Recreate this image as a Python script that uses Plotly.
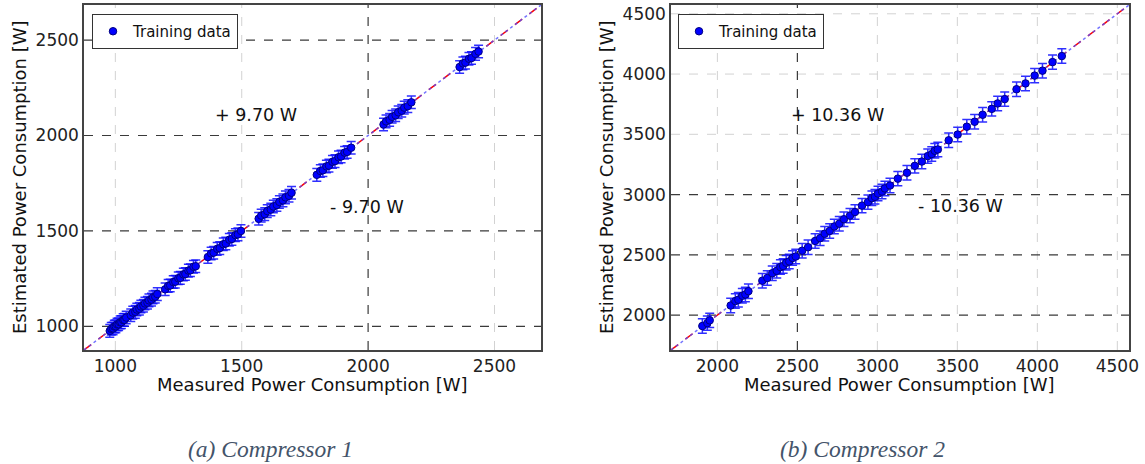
import plotly.graph_objects as go

# ---------------- data ----------------
# Compressor 1 (measured vs estimated, W)
c1_measured = [978, 984, 991, 996, 1002, 1007, 1013, 1019, 1024, 1031, 1036, 1043,
               1061, 1069, 1079, 1085, 1095, 1101, 1111, 1117, 1127, 1133, 1143, 1149, 1158, 1166,
               1197, 1209, 1217, 1229, 1237, 1249, 1257, 1269, 1277, 1289, 1297, 1309, 1318,
               1366, 1379, 1389, 1403, 1413, 1427, 1437, 1451, 1461, 1475, 1485, 1497,
               1567, 1577, 1591, 1601, 1615, 1625, 1639, 1649, 1663, 1673, 1687, 1697,
               1797, 1811, 1821, 1835, 1845, 1859, 1869, 1883, 1893, 1907, 1917, 1933,
               2061, 2071, 2085, 2095, 2109, 2119, 2133, 2143, 2157, 2171,
               2362, 2375, 2385, 2399, 2409, 2425, 2437]
c1_estimated = [976, 987, 989, 999, 1000, 1010, 1011, 1021, 1022, 1033, 1034, 1046,
                1058, 1072, 1076, 1088, 1092, 1104, 1108, 1120, 1124, 1136, 1140, 1152, 1155, 1169,
                1194, 1212, 1214, 1232, 1234, 1252, 1254, 1272, 1274, 1292, 1294, 1312, 1315,
                1363, 1382, 1386, 1406, 1410, 1430, 1434, 1454, 1458, 1478, 1482, 1500,
                1564, 1580, 1588, 1604, 1612, 1628, 1636, 1652, 1660, 1676, 1684, 1700,
                1794, 1814, 1818, 1838, 1842, 1862, 1866, 1886, 1890, 1910, 1914, 1936,
                2058, 2074, 2082, 2098, 2106, 2122, 2130, 2146, 2154, 2174,
                2359, 2378, 2382, 2402, 2406, 2428, 2440]
c1_error = 33

# Compressor 2 (measured vs estimated, W)
c2_measured = [1906, 1937, 1952,
               2083, 2112, 2131, 2156, 2175, 2194,
               2281, 2312, 2343, 2371, 2394, 2411, 2430, 2449, 2470, 2490,
               2530, 2567, 2611, 2642, 2671, 2702, 2731, 2762, 2791, 2829,
               2860, 2904, 2941, 2966, 2985, 3004, 3029, 3047, 3079,
               3128, 3185, 3234, 3278, 3315, 3340, 3359, 3378,
               3446, 3502, 3559, 3608, 3658, 3715, 3752, 3796,
               3870, 3926, 3983, 4032, 4095, 4153]
c2_estimated = [1909, 1933, 1956,
                2079, 2116, 2127, 2160, 2171, 2198,
                2285, 2308, 2347, 2367, 2398, 2407, 2434, 2445, 2474, 2486,
                2534, 2563, 2615, 2638, 2675, 2698, 2735, 2758, 2795, 2825,
                2855, 2908, 2937, 2970, 2981, 3008, 3025, 3051, 3075,
                3132, 3181, 3238, 3274, 3319, 3336, 3363, 3374,
                3450, 3498, 3563, 3604, 3662, 3711, 3756, 3792,
                3874, 3922, 3987, 4028, 4099, 4149]
c2_error = 60

c1_range = [876, 2684]
c2_range = [1710, 4573]
c1_ticks = [1000, 1500, 2000, 2500]
c2_ticks = [2000, 2500, 3000, 3500, 4000, 4500]
c1_dark_h = [1000, 1500, 2000, 2500]
c1_dark_v = [2000]
c2_dark_h = [2000, 2500, 3000]
c2_dark_v = [2500]

c1_band = 9.70
c2_band = 10.36

# ---------------- figure ----------------
W, H = 1145, 464
FONT = "DejaVu Sans"
BLUE = "#0000ff"

fig = go.Figure()

def add_panel(xa, ya, meas, est, err, rng, legend):
    # diagonal y = x reference
    fig.add_trace(go.Scatter(x=rng, y=rng, mode="lines", xaxis=xa, yaxis=ya,
                             line=dict(color="red", width=1.5, dash="dash"),
                             showlegend=False, hoverinfo="skip"))
    fig.add_trace(go.Scatter(x=rng, y=rng, mode="lines", xaxis=xa, yaxis=ya,
                             line=dict(color="rgba(80,80,255,0.8)", width=1.5, dash="dot"),
                             showlegend=False, hoverinfo="skip"))
    fig.add_trace(go.Scatter(x=meas, y=est, mode="markers", xaxis=xa, yaxis=ya,
                             name="Training data", legend=legend,
                             marker=dict(color=BLUE, size=7.5, line=dict(color="#000080", width=1)),
                             error_y=dict(type="constant", value=err, color="rgba(10,10,255,0.85)",
                                          thickness=1.5, width=4.5)))

add_panel("x", "y", c1_measured, c1_estimated, c1_error, c1_range, "legend")
add_panel("x2", "y2", c2_measured, c2_estimated, c2_error, c2_range, "legend2")

def px_x(p):
    return p / W

def px_y(p):
    return 1 - p / H

ydom = [px_y(350), px_y(5)]
axis_common = dict(showline=True, linecolor="#444", linewidth=1.5, mirror=True,
                   showgrid=False, zeroline=False, ticks="", automargin=False,
                   tickfont=dict(family=FONT, size=17, color="#222"))

fig.update_layout(
    width=W, height=H, margin=dict(l=0, r=0, t=0, b=0),
    paper_bgcolor="white", plot_bgcolor="white",
    xaxis=dict(domain=[px_x(84), px_x(541)], range=c1_range, tickvals=c1_ticks,
               anchor="y", **axis_common),
    yaxis=dict(domain=ydom, range=c1_range, tickvals=c1_ticks, anchor="x", **axis_common),
    xaxis2=dict(domain=[px_x(671), px_x(1129)], range=c2_range, tickvals=c2_ticks,
                anchor="y2", **axis_common),
    yaxis2=dict(domain=ydom, range=c2_range, tickvals=c2_ticks, anchor="x2", **axis_common),
    legend=dict(x=px_x(92), y=px_y(14), xanchor="left", yanchor="top",
                bordercolor="#333", borderwidth=1, bgcolor="white",
                font=dict(family=FONT, size=15, color="#111"),
                itemwidth=30, tracegroupgap=0),
    legend2=dict(x=px_x(678), y=px_y(14), xanchor="left", yanchor="top",
                 bordercolor="#333", borderwidth=1, bgcolor="white",
                 font=dict(family=FONT, size=15, color="#111"),
                 itemwidth=30, tracegroupgap=0),
)

# grid lines: light dashed at every tick, darker dashed at selected ones
LIGHT = dict(color="#d2d2d2", width=1, dash="dash")
DARK = dict(color="#3a3a3a", width=1.2, dash="dash")
shapes = []

def hline(xa, ya, v, style):
    shapes.append(dict(type="line", xref=f"{xa} domain", yref=ya, x0=0, x1=1, y0=v, y1=v,
                       line=style, layer="below"))

def vline(xa, ya, v, style):
    shapes.append(dict(type="line", xref=xa, yref=f"{ya} domain", x0=v, x1=v, y0=0, y1=1,
                       line=style, layer="below"))

for v in c1_ticks:
    if v not in c1_dark_v:
        vline("x", "y", v, LIGHT)
    if v not in c1_dark_h:
        hline("x", "y", v, LIGHT)
for v in c2_ticks:
    if v not in c2_dark_v:
        vline("x2", "y2", v, LIGHT)
    if v not in c2_dark_h:
        hline("x2", "y2", v, LIGHT)
for v in c1_dark_h:
    hline("x", "y", v, DARK)
for v in c1_dark_v:
    vline("x", "y", v, DARK)
for v in c2_dark_h:
    hline("x2", "y2", v, DARK)
for v in c2_dark_v:
    vline("x2", "y2", v, DARK)
fig.update_layout(shapes=shapes)

ann = []
# band labels
ann.append(dict(x=1387, y=2110, xref="x", yref="y", text=f"+ {c1_band:.2f} W", showarrow=False,
                xanchor="left", yanchor="middle", font=dict(family=FONT, size=17.5, color="#111")))
ann.append(dict(x=1841, y=1626, xref="x", yref="y", text=f"- {c1_band:.2f} W", showarrow=False,
                xanchor="left", yanchor="middle", font=dict(family=FONT, size=17.5, color="#111")))
ann.append(dict(x=2449, y=3664, xref="x2", yref="y2", text=f"+ {c2_band:.2f} W", showarrow=False,
                xanchor="left", yanchor="middle", font=dict(family=FONT, size=17.5, color="#111")))
ann.append(dict(x=3241, y=2902, xref="x2", yref="y2", text=f"- {c2_band:.2f} W", showarrow=False,
                xanchor="left", yanchor="middle", font=dict(family=FONT, size=17.5, color="#111")))
# axis titles
for cx in (312.5, 900):
    ann.append(dict(x=px_x(cx), y=px_y(384), xref="paper", yref="paper",
                    text="Measured Power Consumption [W]", showarrow=False,
                    xanchor="center", yanchor="middle", font=dict(family=FONT, size=18, color="#111")))
for cx in (19, 606):
    ann.append(dict(x=px_x(cx), y=px_y(177), xref="paper", yref="paper",
                    text="Estimated Power Consumption [W]", showarrow=False, textangle=-90,
                    xanchor="center", yanchor="middle", font=dict(family=FONT, size=18, color="#111")))
# captions
ann.append(dict(x=px_x(270), y=px_y(449), xref="paper", yref="paper",
                text="<i>(a) Compressor 1</i>", showarrow=False, xanchor="center", yanchor="middle",
                font=dict(family="Liberation Serif", size=23.5, color="#44546a")))
ann.append(dict(x=px_x(862), y=px_y(449), xref="paper", yref="paper",
                text="<i>(b) Compressor 2</i>", showarrow=False, xanchor="center", yanchor="middle",
                font=dict(family="Liberation Serif", size=23.5, color="#44546a")))
fig.update_layout(annotations=ann)

fig.write_html("out.html")
